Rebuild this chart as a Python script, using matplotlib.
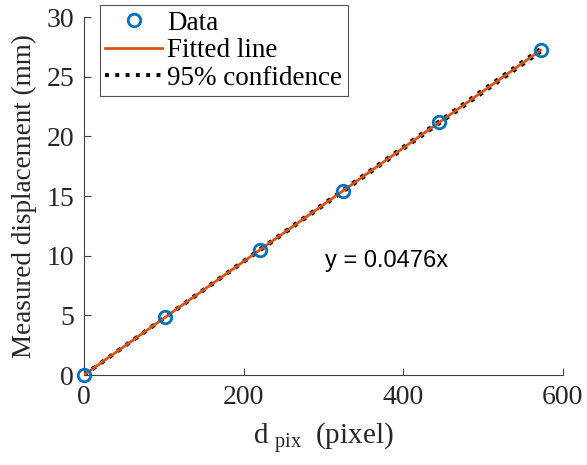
import numpy as np
import matplotlib.pyplot as plt

# Measured data
d_pix = [0, 102, 220, 324, 445, 572]
disp_mm = [0, 4.86, 10.5, 15.42, 21.2, 27.24]

# Fit and confidence slopes
slope = 0.0476
slope_lo = 0.0474
slope_hi = 0.0478
x_fit = [0, 572]

plt.rcParams['font.family'] = 'Liberation Serif'
plt.rcParams['mathtext.fontset'] = 'custom'
plt.rcParams['mathtext.rm'] = 'Liberation Serif'
plt.rcParams['font.size'] = 19

fig = plt.figure(figsize=(5.87, 4.65), dpi=100)
ax = fig.add_axes([0.143, 0.1935, 0.816, 0.7695])

xf = np.array(x_fit)
ax.plot(xf, slope_lo * xf, ':', color='black', lw=2.8, zorder=2,
        label='95% confidence')
ax.plot(xf, slope_hi * xf, ':', color='black', lw=2.8, zorder=2)
ax.plot(xf, slope * xf, '-', color=(0.85, 0.325, 0.098), lw=2, zorder=3,
        label='Fitted line')
ax.plot(d_pix, disp_mm, 'o', mfc='none', mec=(0, 0.447, 0.741), ms=9,
        mew=2, zorder=4, label='Data', clip_on=False)

ax.set_xlim(0, 600)
ax.set_ylim(0, 30)
ax.set_xticks([0, 200, 400, 600])
ax.set_yticks([0, 5, 10, 15, 20, 25, 30])
ax.spines['top'].set_visible(False)
ax.spines['right'].set_visible(False)
for s in ['left', 'bottom']:
    ax.spines[s].set_color('0.25')
    ax.spines[s].set_linewidth(0.8)
ax.tick_params(direction='in', length=5, width=0.8, color='0.25',
               labelcolor='0.15', labelsize=20, pad=7)

ax.set_xlabel(r'd$_{\ \rm pix\ }$ (pixel)', fontsize=21, color='0.15',
              labelpad=8)
ax.set_ylabel('Measured displacement (mm)', fontsize=19.5, color='0.15',
              labelpad=7)

ax.text(302, 9.6, 'y = 0.0476x', family='Liberation Sans', fontsize=17,
        va='center', ha='left')

handles, labels = ax.get_legend_handles_labels()
order = [2, 1, 0]
leg = fig.legend([handles[i] for i in order], [labels[i] for i in order],
                 loc='upper left', bbox_to_anchor=(0.170, 0.989),
                 fontsize=19.5, frameon=True, fancybox=False,
                 borderpad=0.2, labelspacing=0.1, handletextpad=0.2,
                 handlelength=2.1, borderaxespad=0)
leg.get_frame().set_edgecolor('0.15')
leg.get_frame().set_linewidth(0.8)

fig.savefig('out.png', dpi=100, facecolor='white')
